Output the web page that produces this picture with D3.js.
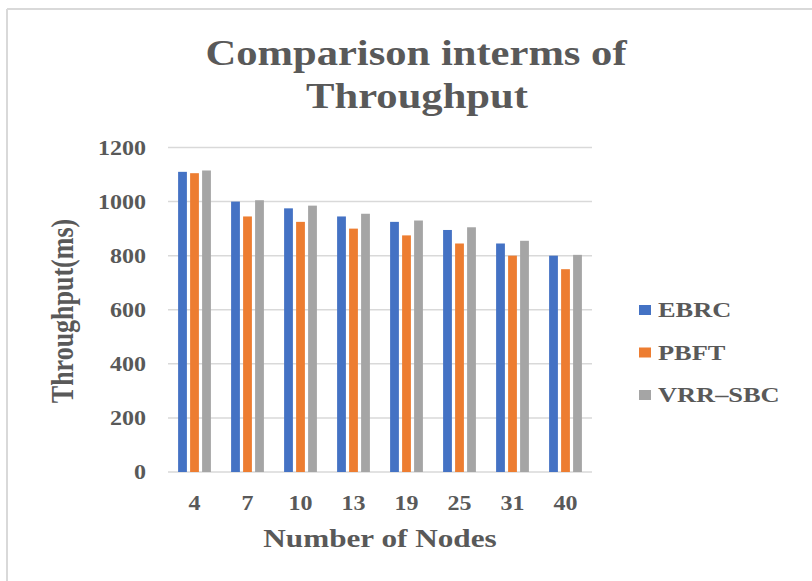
<!DOCTYPE html>
<html>
<head>
<meta charset="utf-8">
<script src="https://cdn.jsdelivr.net/npm/d3@7"></script>
<style>
  html, body { margin: 0; padding: 0; background: #ffffff; }
  svg { display: block; }
</style>
</head>
<body>
<svg id="chart" width="812" height="581"></svg>
<script>
// ---- data ----
const categories = ["4", "7", "10", "13", "19", "25", "31", "40"];
const seriesNames = ["EBRC", "PBFT", "VRR\u2013SBC"];
const ebrc   = [1110, 1000, 975, 945, 925, 895, 845, 800];
const pbft   = [1105, 945, 925, 900, 875, 845, 800, 750];
const vrrSbc = [1115, 1005, 985, 955, 930, 905, 855, 803];
const yTicks = [0, 200, 400, 600, 800, 1000, 1200];
const colors = ["#4472C4", "#ED7D31", "#A5A5A5"];
const titleLines = ["Comparison interms of", "Throughput"];
const xTitle = "Number of Nodes";
const yTitle = "Throughput(ms)";

const seriesValues = [ebrc, pbft, vrrSbc];
const SX = 1.2; // horizontal stretch of text seen in the reference
const FONT = "'Liberation Serif', 'Times New Roman', Times, 'DejaVu Serif', serif";

const svg = d3.select("#chart");

// chart border (top & left visible)
svg.append("line").attr("x1", 7).attr("x2", 812).attr("y1", 9).attr("y2", 9)
  .attr("stroke", "#d9d9d9").attr("stroke-width", 2);
svg.append("line").attr("x1", 7).attr("x2", 7).attr("y1", 9).attr("y2", 581)
  .attr("stroke", "#d9d9d9").attr("stroke-width", 2);

const plotL = 168, plotR = 592, plotT = 147.5, plotB = 472;

const x = d3.scaleBand().domain(categories).range([plotL, plotR]).padding(0);
const y = d3.scaleLinear().domain([0, 1200]).range([plotB, plotT]);

// gridlines
svg.append("g").selectAll("line").data(yTicks).join("line")
  .attr("x1", plotL).attr("x2", plotR)
  .attr("y1", d => y(d)).attr("y2", d => y(d))
  .attr("stroke", "#d9d9d9").attr("stroke-width", 1.5);

// bars
const barW = 8.8, step = 12;
const groupW = step * (seriesNames.length - 1) + barW;
const sub = d3.scaleOrdinal().domain(seriesNames).range(seriesNames.map((s, i) => i * step));

seriesNames.forEach((name, si) => {
  svg.append("g").selectAll("rect").data(seriesValues[si]).join("rect")
    .attr("x", (d, i) => x(categories[i]) + x.bandwidth() / 2 - groupW / 2 + sub(name))
    .attr("y", d => y(d))
    .attr("width", barW)
    .attr("height", d => y(0) - y(d))
    .attr("fill", colors[si]);
});

function styleText(t, size) {
  return t.attr("font-family", FONT)
    .style("font-family", FONT)
    .attr("font-weight", "bold")
    .attr("font-size", size)
    .attr("fill", "#595959");
}

function stretchedText(g, tx, ty, str, size, anchor) {
  const t = g.append("text")
    .attr("transform", `translate(${tx},${ty}) scale(${SX},1)`)
    .attr("text-anchor", anchor || "middle")
    .text(str);
  return styleText(t, size);
}

// y tick labels
const gy = svg.append("g");
yTicks.forEach(t => {
  stretchedText(gy, 146, y(t) + 7, String(t), 20, "end");
});

// x tick labels
const gx = svg.append("g");
categories.forEach(c => {
  stretchedText(gx, x(c) + x.bandwidth() / 2, 510, c, 20, "middle");
});

// title
stretchedText(svg, 416, 65, titleLines[0], 35.5, "middle");
stretchedText(svg, 417, 108, titleLines[1], 35.5, "middle");

// axis titles
stretchedText(svg, 380, 547, xTitle, 26, "middle");
styleText(svg.append("text")
  .attr("transform", `translate(73,311) scale(${SX},1) rotate(-90)`)
  .attr("text-anchor", "middle")
  .text(yTitle), 26);

// legend
const lg = svg.append("g");
seriesNames.forEach((name, i) => {
  const by = 317 + i * 42.5;
  lg.append("rect").attr("x", 639).attr("y", by - 12).attr("width", 12).attr("height", 10)
    .attr("fill", colors[i]);
  stretchedText(lg, 658, by, name, 22, "start");
});
</script>
</body>
</html>
